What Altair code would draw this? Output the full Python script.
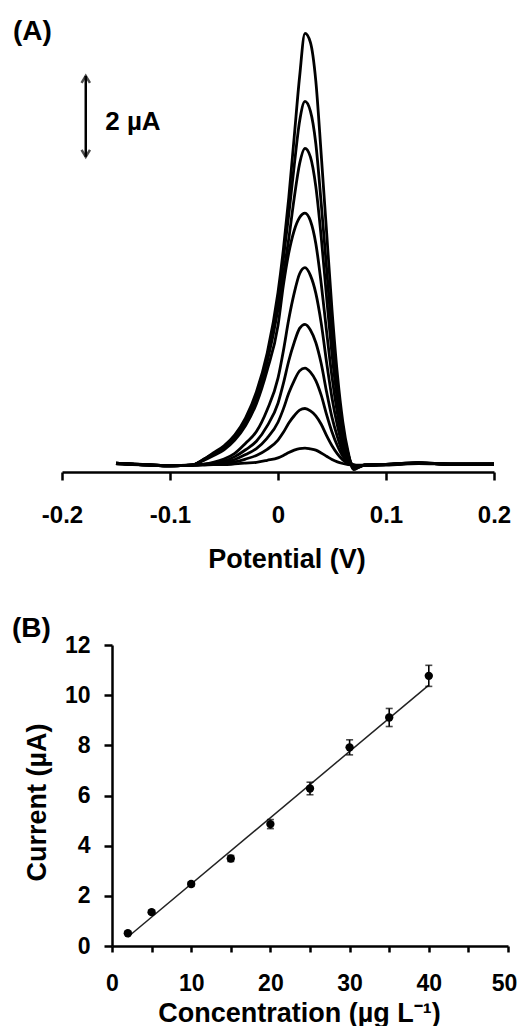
import altair as alt
import pandas as pd

# ---------------- Panel A: voltammograms ----------------
potential = [-0.15, -0.12, -0.10, -0.08, -0.07, -0.06, -0.05, -0.04, -0.03, -0.02,
             -0.01, 0.0, 0.005, 0.01, 0.015, 0.02, 0.025, 0.03, 0.035, 0.04,
             0.045, 0.05, 0.055, 0.06, 0.065, 0.07, 0.075, 0.08, 0.10, 0.13, 0.16, 0.20]

curve_2 = [0.03, 0.0, -0.02, 0.0, 0.0, 0.01, 0.01, 0.03, 0.05, 0.07, 0.12, 0.18, 0.24, 0.31, 0.37,
           0.41, 0.42, 0.40, 0.37, 0.30, 0.22, 0.14, 0.08, 0.04, 0.01, 0.0, 0.0, 0.0, 0.01, 0.04, 0.02, 0.03]
curve_5 = [0.04, 0.01, -0.01, 0.0, 0.01, 0.02, 0.04, 0.08, 0.15, 0.24, 0.39, 0.62, 0.81, 1.04, 1.22,
           1.36, 1.40, 1.34, 1.22, 1.01, 0.73, 0.48, 0.28, 0.13, 0.04, 0.0, -0.01, 0.0, 0.0, 0.05, 0.02, 0.02]
curve_10 = [0.05, 0.0, -0.02, 0.0, 0.01, 0.04, 0.07, 0.14, 0.26, 0.41, 0.67, 1.06, 1.39, 1.78, 2.09,
            2.33, 2.40, 2.30, 2.09, 1.73, 1.25, 0.82, 0.48, 0.22, 0.07, 0.0, -0.01, 0.0, 0.02, 0.05, 0.03, 0.03]
curve_15 = [0.04, 0.01, -0.02, 0.0, 0.02, 0.05, 0.10, 0.21, 0.38, 0.59, 0.97, 1.53, 2.02, 2.58, 3.03,
            3.38, 3.48, 3.34, 3.03, 2.51, 1.81, 1.18, 0.70, 0.31, 0.10, 0.0, -0.02, 0.0, 0.01, 0.06, 0.02, 0.02]
curve_20 = [0.05, 0.0, -0.01, 0.0, 0.02, 0.07, 0.15, 0.29, 0.54, 0.83, 1.37, 2.15, 2.83, 3.61, 4.25,
            4.73, 4.88, 4.69, 4.25, 3.51, 2.54, 1.66, 0.98, 0.44, 0.15, 0.0, -0.02, 0.0, 0.02, 0.05, 0.03, 0.03]
curve_25 = [0.04, 0.01, -0.02, 0.0, 0.10, 0.23, 0.38, 0.62, 0.98, 1.52, 2.35, 3.45, 4.45, 5.25, 5.80,
            6.12, 6.23, 6.04, 5.48, 4.49, 3.30, 2.18, 1.28, 0.59, 0.19, -0.03, -0.03, 0.0, 0.01, 0.05, 0.02, 0.02]
curve_30 = [0.05, 0.0, -0.02, 0.0, 0.11, 0.26, 0.42, 0.68, 1.06, 1.65, 2.55, 3.85, 4.70, 5.60, 6.60,
            7.45, 7.83, 7.62, 6.89, 5.64, 4.15, 2.74, 1.61, 0.74, 0.24, -0.04, -0.04, 0.0, 0.02, 0.06, 0.03, 0.03]
curve_35 = [0.04, 0.01, -0.01, 0.0, 0.12, 0.28, 0.45, 0.72, 1.12, 1.74, 2.68, 4.10, 5.10, 6.20, 7.40,
            8.50, 8.99, 8.75, 7.95, 6.47, 4.86, 3.24, 1.89, 0.90, 0.27, -0.09, -0.05, 0.0, 0.01, 0.05, 0.02, 0.03]
curve_40 = [0.05, 0.0, -0.02, 0.0, 0.13, 0.30, 0.48, 0.75, 1.17, 1.81, 2.77, 4.27, 5.34, 6.62, 8.11,
            9.60, 10.67, 10.45, 9.50, 7.68, 5.76, 3.84, 2.24, 1.07, 0.32, -0.11, -0.05, 0.0, 0.02, 0.05, 0.03, 0.02]

curves = {"2": curve_2, "5": curve_5, "10": curve_10, "15": curve_15, "20": curve_20,
          "25": curve_25, "30": curve_30, "35": curve_35, "40": curve_40}

# scale bar (2 µA)
bar_x = [-0.178]
bar_lo = [7.62]
bar_hi = [9.62]
bar_label = ["2 µA"]
bar_label_x = [-0.160]
bar_label_y = [8.28]

# ---------------- Panel B: calibration ----------------
conc = [2, 5, 10, 15, 20, 25, 30, 35, 40]
current = [0.51, 1.35, 2.47, 3.49, 4.86, 6.28, 7.92, 9.11, 10.77]
err = [0.05, 0.07, 0.09, 0.12, 0.18, 0.25, 0.30, 0.36, 0.42]
fit_x = [2, 40]
fit_y = [0.36, 10.4]

FONT = "Liberation Sans"

rows = []
for k, vals in curves.items():
    for v, c in zip(potential, vals):
        rows.append({"conc": k, "E": v, "I": c})
df_cv = pd.DataFrame(rows)

xA = alt.Scale(domain=[-0.2, 0.2], nice=False, zero=False)
yA = alt.Scale(domain=[-0.17, 11.2], nice=False, zero=False)

x_axis_A = alt.Axis(
    values=[-0.2, -0.1, 0, 0.1, 0.2],
    labelExpr="datum.value < 0 ? '-' + format(abs(datum.value), '.1f') : (datum.value == 0 ? '0' : format(datum.value, '.1f'))",
    title="Potential (V)", titleX=224.5, titleY=95, titleBaseline="alphabetic",
    titleFontSize=27, titleFont=FONT, titleFontWeight="bold", titleColor="black",
    labelFontSize=24, labelFont=FONT, labelFontWeight="bold", labelColor="black",
    labelBaseline="alphabetic", labelPadding=42, tickSize=8, tickWidth=2.5, tickColor="black",
    domainWidth=2.5, domainColor="black", grid=False, labelFlush=False, labelOverlap=False,
)

lines = alt.Chart(df_cv).mark_line(interpolate="monotone", color="black", strokeWidth=2.8).encode(
    x=alt.X("E:Q", scale=xA, axis=x_axis_A),
    y=alt.Y("I:Q", scale=yA, axis=None),
    detail="conc:N",
    order="E:Q",
)

df_bar = pd.DataFrame({"x": bar_x, "lo": bar_lo, "hi": bar_hi})
bar_rule = alt.Chart(df_bar).mark_rule(color="black", strokeWidth=2.5).encode(
    x=alt.X("x:Q", scale=xA), y=alt.Y("lo:Q", scale=yA, axis=None), y2="hi:Q")
head_up = alt.Chart(df_bar).mark_point(shape="M-0.6,1L0,0L0.6,1", size=196, filled=False,
                                        color="black", strokeWidth=2.5).encode(
    x=alt.X("x:Q", scale=xA), y=alt.Y("hi:Q", scale=yA, axis=None))
head_dn = alt.Chart(df_bar).mark_point(shape="M-0.6,-1L0,0L0.6,-1", size=196, filled=False,
                                        color="black", strokeWidth=2.5).encode(
    x=alt.X("x:Q", scale=xA), y=alt.Y("lo:Q", scale=yA, axis=None))
df_lab = pd.DataFrame({"x": bar_label_x, "y": bar_label_y, "t": bar_label})
bar_text = alt.Chart(df_lab).mark_text(align="left", baseline="alphabetic", font=FONT,
                                       fontWeight="bold", fontSize=26, color="black").encode(
    x=alt.X("x:Q", scale=xA), y=alt.Y("y:Q", scale=yA, axis=None), text="t:N")

label_A = alt.Chart(pd.DataFrame({"t": ["(A)"]})).mark_text(
    align="left", baseline="alphabetic", font=FONT, fontWeight="bold", fontSize=28, color="black"
).encode(x=alt.value(-49), y=alt.value(28), text="t:N")

top = alt.layer(lines, bar_rule, head_up, head_dn, bar_text, label_A).properties(width=432, height=460)

# ---------------- Panel B chart ----------------
df_cal = pd.DataFrame({"c": conc, "i": current, "e": err})
df_cal["lo"] = df_cal["i"] - df_cal["e"]
df_cal["hi"] = df_cal["i"] + df_cal["e"]
df_fit = pd.DataFrame({"c": fit_x, "i": fit_y})

xB = alt.Scale(domain=[0, 50], range=[50, 446], nice=False)
yB = alt.Scale(domain=[0, 12], nice=False)

x_axis_B = alt.Axis(
    values=list(range(0, 55, 5)),
    labelExpr="datum.value % 10 == 0 ? datum.label : ''",
    labelOffset={"condition": {"test": "datum.value == 50", "value": -4}, "value": 0},
    title="Concentration (µg L⁻¹)", titleX=237, titleY=75, titleBaseline="alphabetic",
    titleFontSize=27, titleFont=FONT, titleFontWeight="bold", titleColor="black",
    labelFontSize=23, labelFont=FONT, labelFontWeight="bold", labelColor="black",
    labelBaseline="alphabetic", labelPadding=38, tickSize=6, tickWidth=2.5, tickColor="black",
    domainWidth=2.5, domainColor="black", grid=False, labelFlush=False, labelOverlap=False,
)
y_axis_B = alt.Axis(
    values=list(range(0, 13)),
    labelExpr="datum.value % 2 == 0 ? datum.label : ''",
    title="Current (µA)", titleX=-67, titleY=157, titleAngle=270, titleBaseline="alphabetic",
    titleAlign="center",
    titleFontSize=27, titleFont=FONT, titleFontWeight="bold", titleColor="black",
    labelFontSize=23, labelFont=FONT, labelFontWeight="bold", labelColor="black",
    labelPadding=14, tickSize=8, tickWidth=2.5, tickColor="black", offset=-50,
    domainWidth=2.5, domainColor="black", grid=False, labelFlush=False, labelOverlap=False,
)

fit = alt.Chart(df_fit).mark_line(color="#222222", strokeWidth=1.5).encode(
    x=alt.X("c:Q", scale=xB, axis=x_axis_B), y=alt.Y("i:Q", scale=yB, axis=y_axis_B))
ebar = alt.Chart(df_cal).mark_rule(color="black", strokeWidth=1.6).encode(
    x=alt.X("c:Q", scale=xB), y=alt.Y("lo:Q", scale=yB), y2="hi:Q")
cap_hi = alt.Chart(df_cal).mark_point(shape="stroke", size=49, color="black", strokeWidth=1.6).encode(
    x=alt.X("c:Q", scale=xB), y=alt.Y("hi:Q", scale=yB))
cap_lo = alt.Chart(df_cal).mark_point(shape="stroke", size=49, color="black", strokeWidth=1.6).encode(
    x=alt.X("c:Q", scale=xB), y=alt.Y("lo:Q", scale=yB))
pts = alt.Chart(df_cal).mark_circle(size=70, color="black", opacity=1).encode(
    x=alt.X("c:Q", scale=xB), y=alt.Y("i:Q", scale=yB))
label_B = alt.Chart(pd.DataFrame({"t": ["(B)"]})).mark_text(
    align="left", baseline="alphabetic", font=FONT, fontWeight="bold", fontSize=28, color="black"
).encode(x=alt.value(-50), y=alt.value(-8.5), text="t:N")

bottom = alt.layer(fit, ebar, cap_hi, cap_lo, pts, label_B).properties(width=446, height=301)

chart = alt.vconcat(top, bottom, spacing=42).configure_view(stroke=None).properties(
    padding={"left": 4, "top": 4, "right": 0, "bottom": 0}, background="white")

chart.save("out.html", embed_options={"renderer": "svg", "actions": False})
